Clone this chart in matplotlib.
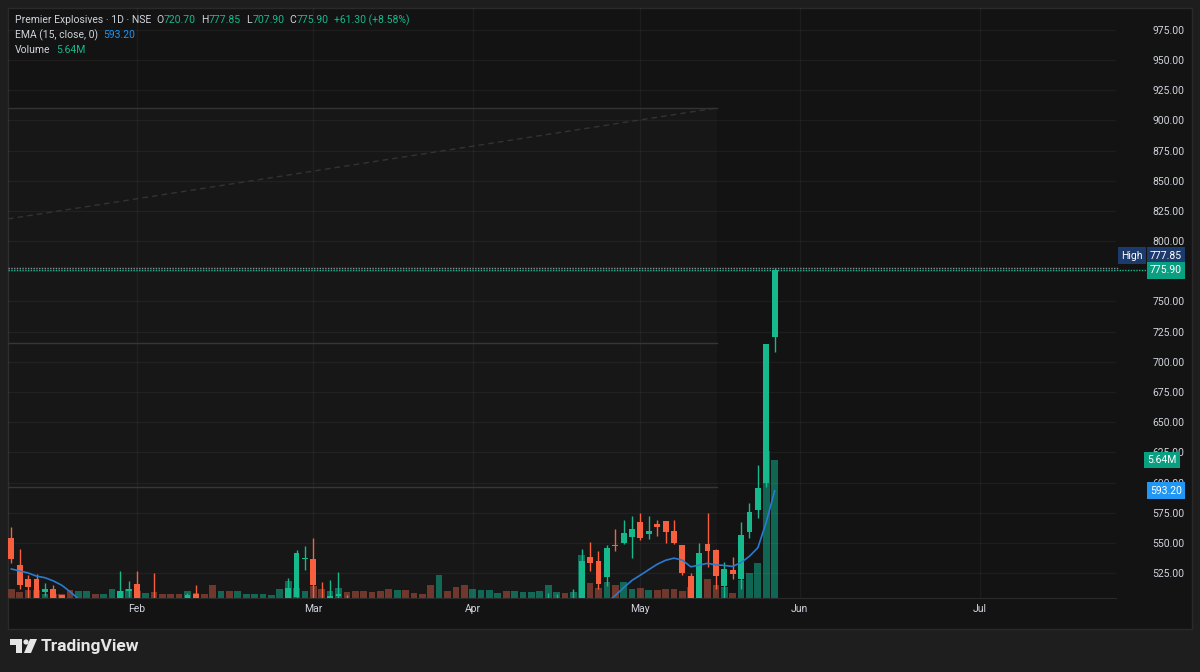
import numpy as np
import pandas as pd
import matplotlib.pyplot as plt
from matplotlib.patches import Rectangle, Polygon, Circle
from matplotlib.transforms import blended_transform_factory

plt.rcParams['font.family'] = ['Roboto', 'DejaVu Sans']

# daily bars (bar index 0 = first bar on screen)
opens = [553.7, 531.7, 519.8, 519.8, 509.6, 512.0, 506.8, 488.0, 460.0, 462.0,
         470.0, 463.0, 474.0, 490.0, 510.0, 515.6, 494.0, 500.0, 490.0, 484.0,
         480.0, 478.0, 507.4, 496.0, 490.0, 478.0, 481.0, 477.0, 480.0, 482.0,
         483.0, 484.0, 485.0, 488.0, 505.0, 536.5, 536.6, 504.0, 499.0, 506.0,
         503.0, 496.0, 490.0, 485.0, 480.0, 476.0, 471.0, 474.0, 470.0, 467.0,
         465.0, 458.0, 472.0, 468.0, 463.0, 458.0, 462.0, 465.0, 468.0, 470.0,
         467.0, 471.0, 474.0, 477.0, 480.0, 484.0, 486.0, 482.0, 490.0, 538.3,
         535.0, 521.4, 548.2, 549.6, 554.6, 567.0, 557.3, 565.9, 567.8, 560.1,
         548.2, 522.5, 491.0, 549.0, 544.1, 514.5, 527.2, 520.1, 559.3, 577.2,
         599.4, 720.7]
highs = [563.4, 544.6, 523.4, 524.2, 517.0, 515.1, 507.2, 490.0, 466.0, 472.0,
         474.0, 478.0, 494.0, 527.0, 518.4, 527.0, 503.0, 524.7, 493.0, 487.0,
         483.0, 508.7, 515.0, 499.0, 493.0, 485.0, 484.0, 483.0, 485.0, 486.0,
         487.0, 488.0, 489.0, 520.6, 544.1, 547.0, 554.0, 517.8, 519.0, 526.0,
         507.0, 499.0, 493.0, 488.0, 483.0, 479.0, 478.0, 477.0, 472.0, 469.0,
         467.0, 478.0, 475.0, 470.0, 466.0, 465.0, 468.0, 471.0, 473.0, 472.0,
         474.0, 477.0, 480.0, 484.0, 508.7, 507.4, 489.0, 512.0, 544.9, 550.4,
         543.3, 548.2, 561.5, 568.9, 572.5, 574.7, 572.5, 569.2, 567.8, 569.2,
         548.5, 525.0, 550.0, 574.7, 545.0, 533.9, 538.0, 567.0, 583.3, 614.5,
         714.8, 777.85]
lows = [533.0, 511.5, 504.0, 499.0, 506.0, 496.0, 485.0, 468.0, 455.0, 458.0,
        460.0, 461.0, 472.0, 488.0, 505.0, 493.0, 490.0, 487.0, 480.0, 476.0,
        473.0, 476.0, 493.0, 486.0, 475.0, 475.0, 474.0, 475.0, 477.0, 479.0,
        480.0, 481.0, 482.0, 486.0, 502.0, 527.5, 503.0, 495.0, 496.0, 502.0,
        493.0, 487.0, 482.0, 477.0, 472.0, 468.0, 468.0, 466.0, 464.0, 462.0,
        455.0, 456.0, 465.0, 460.0, 455.0, 456.0, 460.0, 463.0, 466.0, 465.0,
        465.0, 469.0, 472.0, 475.0, 478.0, 482.0, 479.0, 480.0, 488.0, 527.0,
        511.8, 514.5, 543.3, 548.8, 537.7, 552.4, 553.0, 556.0, 550.2, 548.8,
        523.4, 488.0, 489.0, 529.7, 511.8, 503.0, 520.0, 511.8, 554.3, 570.3,
        596.5, 707.9]
closes = [536.3, 515.1, 513.7, 504.0, 512.0, 500.0, 490.0, 472.0, 462.0, 468.0,
          463.0, 474.0, 490.0, 510.0, 512.0, 496.0, 499.0, 490.0, 484.0, 480.0,
          477.0, 506.5, 496.0, 490.0, 478.0, 481.0, 477.0, 480.0, 482.0, 483.0,
          484.0, 485.0, 486.0, 512.9, 541.9, 537.5, 515.0, 498.0, 506.0, 508.0,
          496.0, 490.0, 485.0, 480.0, 476.0, 471.0, 474.0, 470.0, 467.0, 465.0,
          458.0, 472.0, 468.0, 463.0, 458.0, 462.0, 465.0, 468.0, 470.0, 467.0,
          471.0, 474.0, 477.0, 480.0, 484.0, 486.0, 482.0, 488.0, 535.2, 533.6,
          515.9, 545.7, 547.4, 557.9, 561.5, 553.8, 559.5, 563.4, 558.7, 549.6,
          524.7, 491.0, 541.6, 543.3, 522.5, 528.3, 524.5, 556.5, 575.3, 595.2,
          714.6, 775.9]
volume_m = [0.38, 0.25, 0.31, 0.31, 0.18, 0.18, 0.18, 0.31, 0.29, 0.29,
            0.18, 0.18, 0.36, 0.29, 0.38, 0.30, 0.22, 0.25, 0.15, 0.15,
            0.15, 0.29, 0.22, 0.15, 0.52, 0.29, 0.29, 0.29, 0.18, 0.18,
            0.18, 0.13, 0.36, 0.69, 0.40, 0.29, 0.49, 0.36, 0.29, 0.40,
            0.25, 0.29, 0.29, 0.25, 0.29, 0.36, 0.31, 0.34, 0.19, 0.15,
            0.54, 0.94, 0.27, 0.44, 0.52, 0.37, 0.31, 0.31, 0.20, 0.27,
            0.27, 0.25, 0.25, 0.27, 0.54, 0.25, 0.20, 0.25, 1.77, 0.63,
            0.40, 0.65, 0.53, 0.65, 0.38, 0.39, 0.32, 0.32, 0.35, 0.35,
            0.29, 0.45, 0.50, 0.78, 0.52, 0.46, 0.20, 0.72, 1.01, 1.43,
            6.00, 5.64]
ema_seed = 527.2  # EMA value just before the first visible bar

month_labels = ['Feb', 'Mar', 'Apr', 'May', 'Jun', 'Jul']
month_pos = [15, 36, 55, 75, 94, 115.5]
price_ticks = np.arange(525, 976, 25)

# user drawings on the chart
box_right = 84.1
box_top = 910.4
level_lines = [715.6, 596.3]
trend_start = 818.4
trend_end = 910.4

legend_title = 'Premier Explosives · 1D · NSE'
ohlc_text = [('O', '720.70'), ('H', '777.85'), ('L', '707.90'), ('C', '775.90')]
change_text = '+61.30 (+8.58%)'
ema_text = '593.20'
vol_text = '5.64M'

up_col = '#15b98c'
dn_col = '#f7603f'
vol_up = '#0f6652'
vol_dn = '#6e3529'
ema_col = '#2a7ad0'
txt_col = '#d1d4dc'

o = np.array(opens); h = np.array(highs); l = np.array(lows); c = np.array(closes)
v = np.array(volume_m)
x = np.arange(len(c))
ema = pd.Series([ema_seed] + closes).ewm(span=15, adjust=False).mean().values[1:]

W, H = 1200, 672
def fx(px):
    return px / W
def fy(py):
    return 1 - py / H

fig = plt.figure(figsize=(12, 6.72), dpi=100, facecolor='#1e1e1e')
panel = Rectangle((fx(8), fy(629)), fx(1192) - fx(8), fy(8) - fy(629),
                  transform=fig.transFigure, fc='#131313', ec='#2a2a2a', lw=1, zorder=-5)
fig.patches.append(panel)

pos = [fx(8), fy(598), fx(1116) - fx(8), fy(8) - fy(598)]
ax_v = fig.add_axes(pos)
ax = fig.add_axes(pos)
for a in (ax_v, ax):
    a.patch.set_visible(False)
    a.set_xlim(-0.4, 131.7)
    for s in a.spines.values():
        s.set_visible(False)
ax.set_ylim(504.3, 993.2)
ax_v.set_ylim(0, 24.11)
ax_v.set_xticks([]); ax_v.set_yticks([])

# grid
for p in price_ticks:
    ax.axhline(p, color='#ffffff', alpha=0.045, lw=1, zorder=0)
for m in month_pos:
    ax.axvline(m, color='#ffffff', alpha=0.045, lw=1, zorder=0)
ax.spines['bottom'].set_visible(True)
ax.spines['bottom'].set_color('#2a2a2a')

# drawings
ax.add_patch(Rectangle((-0.4, 504.3), box_right + 0.4, box_top - 504.3,
                       fc='#ffffff', alpha=0.02, ec='none', zorder=0))
ax.plot([-0.4, box_right], [box_top, box_top], color='#333333', lw=1, zorder=1)
for lv in level_lines:
    ax.plot([-0.4, box_right], [lv, lv], color='#363636', lw=1, zorder=1)
ax.plot([-0.4, box_right], [trend_start, trend_end], color='#333333', lw=1,
        ls=(0, (4, 3)), zorder=1)

# volume
vcol = np.where(c >= o, vol_up, vol_dn)
ax_v.bar(x, v, width=0.8, color=vcol, lw=0)

# candles
ccol = np.where(c >= o, up_col, dn_col)
ax.vlines(x, l, h, colors=ccol, lw=1, zorder=3)
ax.bar(x, np.maximum(np.abs(c - o), 0.8), bottom=np.minimum(o, c), width=0.7,
       color=ccol, lw=0, zorder=4)

ax.plot(x, ema, color=ema_col, lw=1.2, zorder=5)

# axes labels
ax.yaxis.tick_right()
ax.set_yticks(price_ticks, [f'{p:.2f}' for p in price_ticks])
ax.tick_params(axis='y', length=0, pad=26, labelsize=7.5, labelcolor=txt_col)
ax.set_xticks(month_pos, month_labels)
ax.tick_params(axis='x', length=0, pad=4, labelsize=7.5, labelcolor=txt_col)

# price lines and scale labels
trans = blended_transform_factory(fig.transFigure, ax.transData)
ax.plot([fx(8), fx(1118)], [h[-1], h[-1]], transform=trans, color='#8a8d96',
        lw=1, ls=(0, (1, 1)), clip_on=False, zorder=2)
ax.plot([fx(8), fx(1147)], [c[-1], c[-1]], transform=trans, color=up_col,
        lw=1, ls=(0, (1, 1)), clip_on=False, zorder=2)

def tag(xpx, y, s, fc, tr=trans):
    ax.text(fx(xpx), y, s, transform=tr, fontsize=7.5, color='#ffffff',
            va='center', ha='left', zorder=10, clip_on=False,
            bbox=dict(boxstyle='square,pad=0.32', fc=fc, ec='none'))

tag(1121, h[-1] + 10, 'High', '#1c3a6b')
tag(1150, h[-1] + 10, f'{h[-1]:.2f}', '#1c3a6b')
tag(1150, c[-1], f'{c[-1]:.2f}', '#0a9f80')
tag(1150, ema[-1], ema_text, '#2196f3')
vtrans = blended_transform_factory(fig.transFigure, ax_v.transData)
tag(1147, v[-1], vol_text, '#0a9f80', tr=vtrans)

# legend: pieces chained one after another
def legend_line(parts, xpx, ypx):
    prev = fig.text(fx(xpx), fy(ypx), parts[0][0], color=parts[0][1], fontsize=7.5,
                    va='center', ha='left')
    for s, col, gap in parts[1:]:
        prev = ax.annotate(s, xy=(1, 0.5), xycoords=prev, xytext=(gap, 0),
                           textcoords='offset points', color=col, fontsize=7.5,
                           va='center', ha='left', annotation_clip=False)

line1 = [(legend_title, txt_col)]
for k, val in ohlc_text:
    line1.append((k, txt_col, 4))
    line1.append((val, up_col, 0))
line1.append((change_text, up_col, 4))
legend_line(line1, 15, 20)
legend_line([('EMA (15, close, 0)', txt_col), (ema_text, '#2196f3', 4)], 15, 35)
legend_line([('Volume', txt_col), (vol_text, up_col, 4)], 15, 50)

# logo
lg = fig.add_axes([0, 0, 1, 1], zorder=20)
lg.set_xlim(0, W); lg.set_ylim(H, 0); lg.axis('off')
lg.add_patch(Polygon([(10, 639), (22, 639), (22, 653), (16, 653), (16, 645), (10, 645)],
                     fc='#e6e6e6', ec='none'))
lg.add_patch(Circle((26, 642), 2.6, fc='#e6e6e6', ec='none'))
lg.add_patch(Polygon([(30, 639), (37, 639), (31, 653), (24, 653)], fc='#e6e6e6', ec='none'))
fig.text(fx(41), fy(647), 'TradingView', fontsize=12.5, color='#e6e6e6',
         fontweight='semibold', va='center', ha='left')

fig.savefig('out.png', dpi=100, facecolor=fig.get_facecolor())
